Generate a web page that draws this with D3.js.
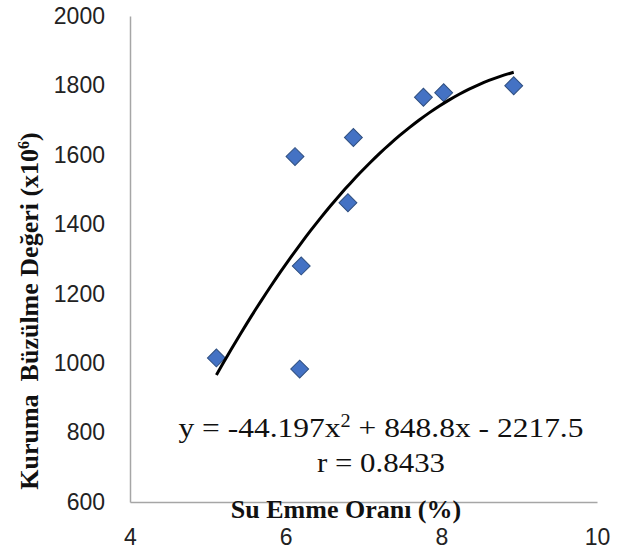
<!DOCTYPE html>
<html>
<head>
<meta charset="utf-8">
<script src="https://cdn.jsdelivr.net/npm/d3@7"></script>
<style>
    body { margin: 0; background: #fff; }
    .tick text { font-family: 'Liberation Sans', sans-serif; font-size: 23px; fill: #222; }
    .domain { stroke: #a6a6a6; stroke-width: 1.5; }
    .title { font-family: 'Liberation Serif', serif; font-weight: bold; font-size: 26px; fill: #111; }
    .eq { font-family: 'Liberation Serif', serif; font-size: 28px; fill: #111; }
</style>
</head>
<body>
<svg width="629" height="555"></svg>
<script>
    // data
    const suEmme = [5.11, 6.12, 6.2, 6.18, 6.8, 6.87, 7.77, 8.03, 8.93];
    const buzulme = [1015, 1595, 1280, 983, 1462, 1650, 1766, 1779, 1799];
    const xTicks = [4, 6, 8, 10];
    const yTicks = [600, 800, 1000, 1200, 1400, 1600, 1800, 2000];
    const coef = [-44.197, 848.8, -2217.5];

    const svg = d3.select('svg');

    const x = d3.scaleLinear().domain([4, 10]).range([130, 597]);
    const y = d3.scaleLinear().domain([600, 2000]).range([502, 16]);

    svg.append('g')
        .attr('transform', 'translate(0,502)')
        .call(d3.axisBottom(x).tickValues(xTicks).tickFormat(d3.format('d'))
            .tickSize(0).tickSizeOuter(0).tickPadding(27));

    svg.append('g')
        .attr('transform', 'translate(130,0)')
        .call(d3.axisLeft(y).tickValues(yTicks).tickFormat(d3.format('d'))
            .tickSize(0).tickSizeOuter(0).tickPadding(25));

    // quadratic trend over the data range
    const fit = v => coef[0] * v * v + coef[1] * v + coef[2];
    const [x0, x1] = d3.extent(suEmme);
    const curve = d3.range(0, 61).map(i => x0 + (x1 - x0) * i / 60);

    const points = suEmme.map((d, i) => ({x: d, y: buzulme[i]}));

    svg.selectAll('path.pt').data(points)
        .enter().append('path')
        .attr('class', 'pt')
        .attr('d', d3.symbol(d3.symbolSquare, 160))
        .attr('transform', d => `translate(${x(d.x)},${y(d.y)}) rotate(45)`)
        .attr('fill', '#4472c4')
        .attr('stroke', '#2f4f80')
        .attr('stroke-width', 1);

    svg.append('path')
        .datum(curve)
        .attr('fill', 'none')
        .attr('stroke', '#000')
        .attr('stroke-width', 3)
        .attr('d', d3.line().x(d => x(d)).y(d => y(fit(d))));

    const eq = svg.append('text')
        .attr('class', 'eq')
        .attr('x', 381)
        .attr('y', 437)
        .attr('text-anchor', 'middle')
        .attr('textLength', 405)
        .attr('lengthAdjust', 'spacingAndGlyphs');
    eq.append('tspan').text('y = -44.197x');
    eq.append('tspan').attr('dy', -10).attr('font-size', 18).text('2');
    eq.append('tspan').attr('dy', 10).text(' + 848.8x - 2217.5');

    svg.append('text')
        .attr('class', 'eq')
        .attr('x', 381)
        .attr('y', 472)
        .attr('text-anchor', 'middle')
        .attr('textLength', 128)
        .attr('lengthAdjust', 'spacingAndGlyphs')
        .text('r = 0.8433');

    svg.append('text')
        .attr('class', 'title')
        .attr('x', 346)
        .attr('y', 518)
        .attr('text-anchor', 'middle')
        .attr('font-size', 25)
        .text('Su Emme Oranı (%)');

    const yt = svg.append('text')
        .attr('class', 'title')
        .attr('transform', 'translate(38,311) rotate(-90)')
        .attr('text-anchor', 'middle')
        .style('white-space', 'pre');
    yt.append('tspan').text('Kuruma  Büzülme Değeri (x10');
    yt.append('tspan').attr('dy', -9).attr('font-size', 16).text('6');
    yt.append('tspan').attr('dy', 9).text(')');
</script>
</body>
</html>
